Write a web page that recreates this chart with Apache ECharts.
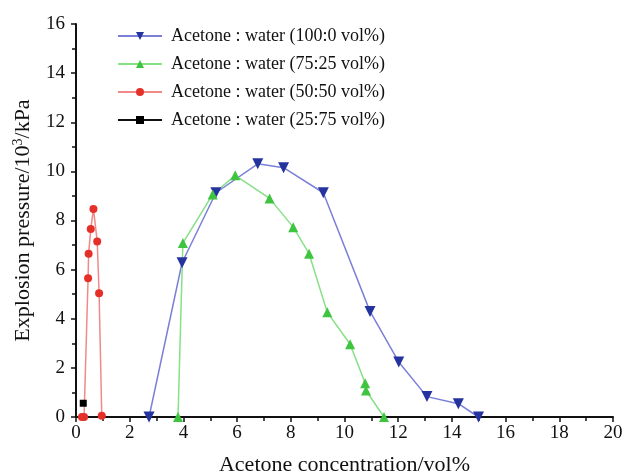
<!DOCTYPE html>
<html>
<head>
<meta charset="utf-8">
<script src="https://cdn.jsdelivr.net/npm/echarts@6/dist/echarts.min.js"></script>
<style>
  html, body { margin: 0; padding: 0; background: #fff; }
  #main { width: 624px; height: 475px; }
</style>
</head>
<body>
<div id="main"></div>
<script>
// values: [acetone vol%, pressure 10^3 kPa]
var ratio100_0 = [[2.72,0],[3.95,6.28],[5.21,9.13],[6.77,10.31],[7.73,10.15],[9.21,9.13],[10.95,4.30],[12.02,2.24],[13.07,0.83],[14.24,0.54],[14.99,0]];
var ratio75_25 = [[3.80,0],[3.98,7.08],[5.09,9.06],[5.93,9.84],[7.21,8.90],[8.09,7.73],[8.68,6.65],[9.36,4.26],[10.21,2.96],[10.77,1.37],[10.80,1.08],[11.47,0]];
var ratio50_50 = [[0.22,0],[0.30,0],[0.45,5.65],[0.47,6.65],[0.55,7.65],[0.65,8.47],[0.79,7.15],[0.86,5.04],[0.96,0.05]];
var ratio25_75 = [[0.27,0.56]];
var seriesNames = ['Acetone : water (100:0 vol%)','Acetone : water (75:25 vol%)','Acetone : water (50:50 vol%)','Acetone : water (25:75 vol%)'];

var serif = '"Liberation Serif", "Times New Roman", serif';
var myChart = echarts.init(document.getElementById('main'));

var option = {
    animation: false,
    textStyle: { fontFamily: serif },
    grid: { left: 76, right: 11, top: 24, bottom: 58, outerBoundsMode: 'none', containLabel: false },
    legend: {
        orient: 'vertical',
        left: 112,
        top: 22,
        itemWidth: 44,
        itemHeight: 10,
        itemGap: 10,
        textStyle: { fontFamily: serif, fontSize: 18, color: '#111', padding: [0, 0, 0, 4] },
        data: seriesNames
    },
    xAxis: {
        type: 'value',
        min: 0, max: 20, interval: 2,
        name: 'Acetone concentration/vol%',
        nameLocation: 'middle',
        nameGap: 37,
        nameTextStyle: { fontFamily: serif, fontSize: 22, color: '#111' },
        axisLine: { lineStyle: { color: '#111', width: 2 } },
        axisTick: { length: 5, lineStyle: { color: '#111', width: 1.5 } },
        minorTick: { show: true, splitNumber: 2, length: 4, lineStyle: { color: '#111', width: 1.5 } },
        axisLabel: { fontFamily: serif, fontSize: 19, color: '#111', margin: 7 },
        splitLine: { show: false }
    },
    yAxis: {
        type: 'value',
        min: 0, max: 16, interval: 2,
        name: 'Explosion pressure/10{sup|3}/kPa',
        nameLocation: 'middle',
        nameGap: 41,
        nameTextStyle: {
            fontFamily: serif, fontSize: 22, color: '#111',
            rich: { sup: { fontFamily: serif, fontSize: 14, color: '#111', verticalAlign: 'bottom', padding: [0, 0, 10, 0] } }
        },
        axisLine: { show: true, lineStyle: { color: '#111', width: 2 } },
        axisTick: { show: true, length: 5, lineStyle: { color: '#111', width: 1.5 } },
        minorTick: { show: true, splitNumber: 2, length: 4, lineStyle: { color: '#111', width: 1.5 } },
        axisLabel: { fontFamily: serif, fontSize: 19, color: '#111', margin: 11 },
        splitLine: { show: false }
    },
    series: [
        {
            name: seriesNames[0], type: 'line', data: ratio100_0,
            symbol: 'triangle', symbolRotate: 180, symbolSize: 11,
            itemStyle: { color: '#25339e' },
            lineStyle: { color: '#7a80d8', width: 1.5 }
        },
        {
            name: seriesNames[1], type: 'line', data: ratio75_25,
            symbol: 'triangle', symbolSize: 10,
            itemStyle: { color: '#3fc43f' },
            lineStyle: { color: '#86e086', width: 1.5 }
        },
        {
            name: seriesNames[2], type: 'line', data: ratio50_50,
            symbol: 'circle', symbolSize: 8,
            itemStyle: { color: '#e5302a' },
            lineStyle: { color: '#f08a86', width: 1.5 }
        },
        {
            name: seriesNames[3], type: 'line', data: ratio25_75,
            symbol: 'rect', symbolSize: 7,
            itemStyle: { color: '#000' },
            lineStyle: { color: '#111', width: 1.5 }
        }
    ]
};

myChart.setOption(option);
</script>
</body>
</html>
